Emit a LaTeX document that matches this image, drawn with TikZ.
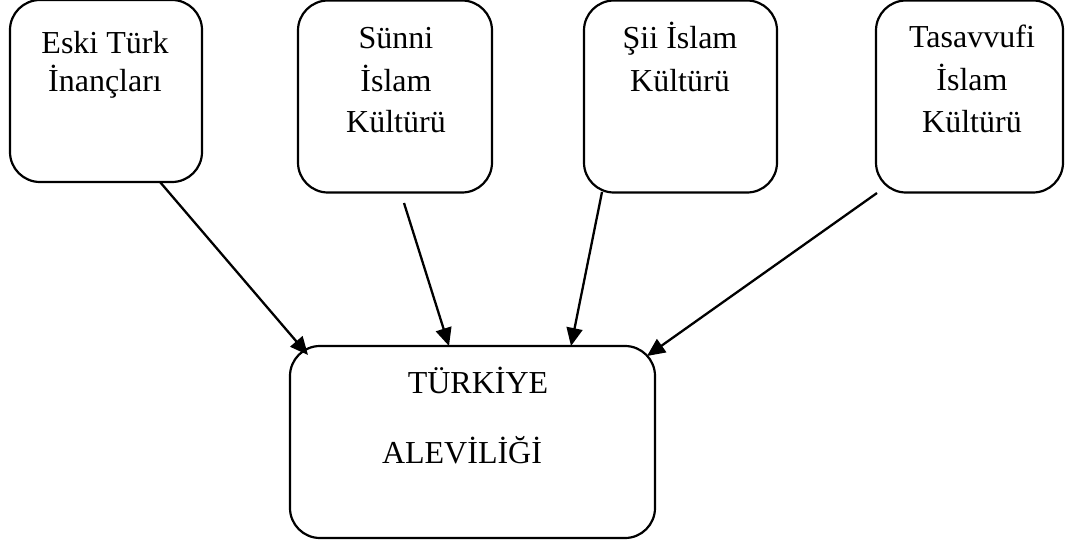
\documentclass[tikz,border=0pt]{standalone}
\usepackage{fontspec}
\setmainfont{Liberation Serif}
\usetikzlibrary{arrows.meta}
\begin{document}
\begin{tikzpicture}[x=1pt,y=-1pt,
  box/.style={draw=black,line width=2.2pt,rounded corners=30pt,inner sep=0pt},
  lbl/.style={anchor=base,inner sep=0pt,font=\fontsize{32}{38}\selectfont},
  conn/.style={line width=2.3pt,-{Triangle[length=18pt,width=16pt]}}]
\path[use as bounding box] (0,0) rectangle (1068,541);
% boxes
\node[box,minimum width=192pt,minimum height=182pt] (b1) at (106,91) {};
\node[box,minimum width=194pt,minimum height=192pt] (b2) at (395,96.5) {};
\node[box,minimum width=193pt,minimum height=192pt] (b3) at (680.5,96.5) {};
\node[box,minimum width=187pt,minimum height=192pt] (b4) at (969.5,96.5) {};
\node[box,minimum width=365pt,minimum height=192pt] (b5) at (472.5,442) {};
% texts
\node[lbl] (t1a) at (105,53) {Eski Türk};
\node[lbl] (t1b) at (105,91) {İnançları};
\node[lbl] (t2a) at (396,48) {Sünni};
\node[lbl] (t2b) at (396,91) {İslam};
\node[lbl] (t2c) at (396,132) {Kültürü};
\node[lbl] (t3a) at (680,48) {Şii İslam};
\node[lbl] (t3b) at (680,91) {Kültürü};
\node[lbl] (t4a) at (972,47) {Tasavvufi};
\node[lbl] (t4b) at (972,90) {İslam};
\node[lbl] (t4c) at (972,132) {Kültürü};
\node[lbl] (t5a) at (478,393) {TÜRKİYE};
\node[lbl] (t5b) at (462,463) {ALEVİLİĞİ};
% connector ends
\coordinate (s1) at (160,182);
\coordinate (s2) at (404,203);
\coordinate (s3) at (602,192);
\coordinate (s4) at (877,193);
\coordinate (e1) at (308,355);
\coordinate (e2) at (449,346);
\coordinate (e3) at (571,346);
\coordinate (e4) at (647,356);
\draw[conn] (s1) -- (e1);
\draw[conn] (s2) -- (e2);
\draw[conn] (s3) -- (e3);
\draw[conn] (s4) -- (e4);
\end{tikzpicture}
\end{document}
